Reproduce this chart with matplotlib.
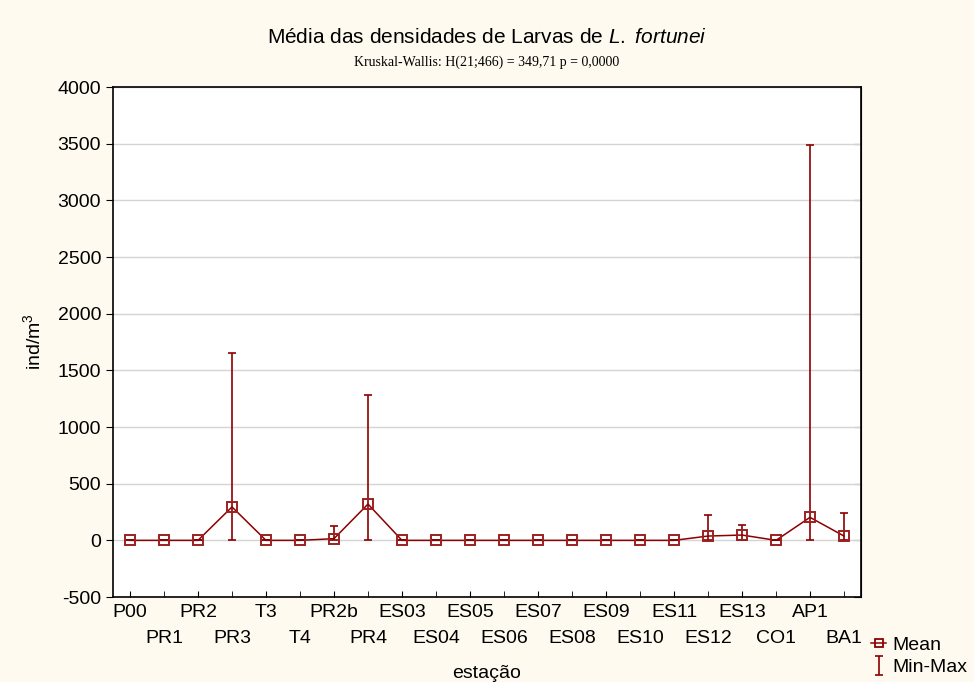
import numpy as np
import matplotlib.pyplot as plt
from matplotlib.lines import Line2D

plt.rcParams['font.family'] = 'Liberation Sans'
plt.rcParams['mathtext.fontset'] = 'custom'
plt.rcParams['mathtext.rm'] = 'Liberation Sans'
plt.rcParams['mathtext.it'] = 'Liberation Sans:italic'
plt.rcParams['axes.unicode_minus'] = False

# estações de coleta
stations = ["P00", "PR1", "PR2", "PR3", "T3", "T4", "PR2b", "PR4",
            "ES03", "ES04", "ES05", "ES06", "ES07", "ES08", "ES09", "ES10",
            "ES11", "ES12", "ES13", "CO1", "AP1", "BA1"]
mean_vals = [0, 0, 0, 295, 0, 0, 15, 320,
             0, 0, 0, 0, 0, 0, 0, 0,
             0, 38, 47, 0, 203, 38]
min_vals = [0] * 22
max_vals = [0, 0, 0, 1650, 0, 0, 125, 1280,
            0, 0, 0, 0, 0, 0, 0, 0,
            0, 220, 135, 0, 3490, 238]

red = '#8B0000'
bg = '#FFFAEF'

fig = plt.figure(figsize=(9.74, 6.82), dpi=100, facecolor=bg)
ax = fig.add_axes([0.116, 0.1246, 0.768, 0.7478])
ax.set_facecolor('white')

x = np.arange(len(stations))
mean_arr = np.array(mean_vals, dtype=float)
lo = mean_arr - np.array(min_vals)
hi = np.array(max_vals) - mean_arr

eb = ax.errorbar(x, mean_arr, yerr=[lo, hi], fmt='none', ecolor=red,
                 elinewidth=1.2, capsize=2.8, capthick=1.2, zorder=3)
line, = ax.plot(x, mean_arr, '-s', color=red, lw=1.1, ms=7,
                mfc='none', mec='#9B2020', mew=1.4, zorder=4)

ax.set_xlim(-0.5, 21.5)
ax.set_ylim(-500, 4000)
ax.set_yticks(np.arange(-500, 4001, 500))
ax.yaxis.grid(True, color='#d4d4d4', lw=1)
ax.set_axisbelow(True)

even = x[::2]
odd = x[1::2]
ax.set_xticks(even, [stations[i] for i in even])
ax.set_xticks(odd, [stations[i] for i in odd], minor=True)
ax.tick_params(axis='x', which='both', direction='in', length=4,
               labelsize=14, colors='black')
ax.tick_params(axis='x', which='major', pad=5)
ax.tick_params(axis='x', which='minor', pad=24)
ax.tick_params(axis='y', direction='out', length=5, labelsize=14)

sec = ax.secondary_yaxis('right')
sec.set_yticks(np.arange(-500, 4001, 500))
sec.tick_params(direction='in', length=5, labelright=False)

for s in ax.spines.values():
    s.set_linewidth(1.2)

ax.set_xlabel('estação', fontsize=14, labelpad=13)
ax.set_ylabel('ind/m$^3$', fontsize=14, labelpad=10)

ax.set_title('Média das densidades de Larvas de $\\mathit{L.\\ fortunei}$',
             fontsize=15, pad=32)
ax.text(0.5, 1.049, 'Kruskal-Wallis: H(21;466) = 349,71 p = 0,0000',
        transform=ax.transAxes, ha='center', va='center',
        fontsize=10, family='Liberation Serif')

mean_handle = Line2D([], [], color=red, lw=1.1, marker='s', ms=6,
                     mfc='none', mec=red, mew=1.3)
fig.legend([mean_handle, eb], ['Mean', 'Min-Max'], loc='lower left',
           bbox_to_anchor=(0.886, -0.003), frameon=False, fontsize=14,
           handlelength=0.8, handletextpad=0.3, labelspacing=0.25,
           borderaxespad=0)

fig.savefig('out.png', dpi=100, facecolor=bg)
